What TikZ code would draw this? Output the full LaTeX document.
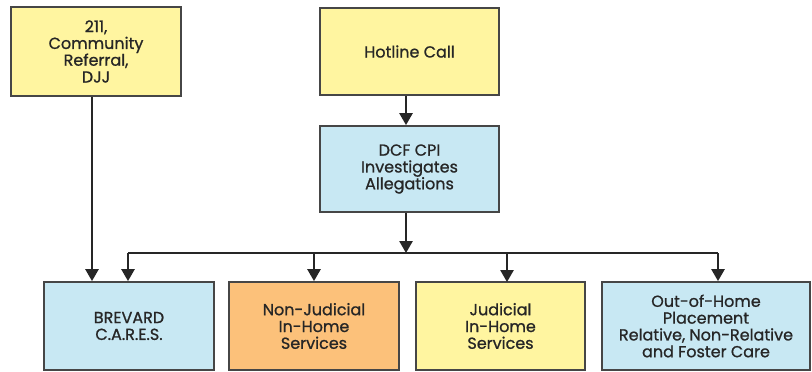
\documentclass[tikz,border=0pt]{standalone}
\usepackage{fontspec}
\setmainfont{Poppins}[FakeBold=0.9]
\usetikzlibrary{arrows.meta}
\definecolor{boxyellow}{RGB}{255,245,160}
\definecolor{boxblue}{RGB}{200,232,243}
\definecolor{boxorange}{RGB}{252,193,122}
\definecolor{edgegray}{RGB}{70,70,70}
\begin{document}
\begin{tikzpicture}[x=0.75pt,y=-0.75pt,
  box/.style={draw=edgegray,line width=1.4pt,rectangle,align=center,
    font=\fontsize{12}{12.6}\selectfont,text=black!85,inner sep=0pt},
  arr/.style={draw=black!85,line width=1.3pt,-{Triangle[width=10pt,length=9pt]}},
  conn/.style={draw=black!85,line width=1.3pt}]
\useasboundingbox (0,0) rectangle (812,371);
\node[box,fill=boxyellow,minimum width=127.5pt,minimum height=66.5pt] (b211) at (96,51.5) {211,\\Community\\Referral,\\DJJ};
\node[box,fill=boxyellow,minimum width=134pt,minimum height=65pt] (hot) at (409.5,51.5) {Hotline Call};
\node[box,fill=boxblue,minimum width=134pt,minimum height=64.5pt] (dcf) at (409.5,169) {DCF CPI\\Investigates\\Allegations};
\node[box,fill=boxblue,minimum width=127.5pt,minimum height=66pt] (brev) at (129,326) {BREVARD\\C.A.R.E.S.};
\node[box,fill=boxorange,minimum width=127.5pt,minimum height=66pt] (nonj) at (314,326) {Non-Judicial\\In-Home\\Services};
\node[box,fill=boxyellow,minimum width=126.5pt,minimum height=66pt] (jud) at (500.5,326) {Judicial\\In-Home\\Services};
\node[box,fill=boxblue,minimum width=156pt,minimum height=66pt] (out) at (706,326) {Out-of-Home\\Placement\\Relative, Non-Relative\\and Foster Care};
\coordinate (bus) at (406,253);
\coordinate (busL) at (128,253);
\coordinate (busR) at (718,253);
\draw[arr] ([xshift=-3pt]b211.south) -- ([xshift=-3pt]b211.south |- brev.north);
\draw[arr] (hot.south -| bus) -- (dcf.north -| bus);
\draw[arr] (dcf.south -| bus) -- (bus);
\draw[conn] (busL) -- (busR);
\draw[arr] (busL) -- (busL |- brev.north);
\draw[arr] (bus -| nonj.north) -- (nonj.north);
\draw[arr] (507,253) -- (507,282);
\draw[arr] (busR) -- (busR |- out.north);
\end{tikzpicture}
\end{document}
